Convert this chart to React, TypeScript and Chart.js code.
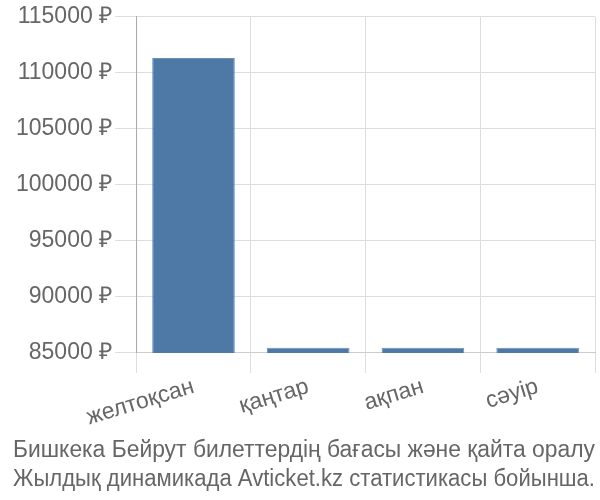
import React, { useEffect, useRef } from "react";
import { Chart, registerables } from "chart.js";

Chart.register(...registerables);

const categories = ["желтоқсан", "қаңтар", "ақпан", "сәуір"];
const prices = [111330, 85470, 85470, 85470];
const yTicksMin = 85000;
const yTicksMax = 115000;
const yStep = 5000;
const titleLines = [
  "Бишкека Бейрут билеттердің бағасы және қайта оралу",
  "Жылдық динамикада Avticket.kz статистикасы бойынша.",
];

const FONT = "'Liberation Sans', Arial, sans-serif";

export default function App() {
  const ref = useRef<HTMLCanvasElement | null>(null);
  useEffect(() => {
    document.body.style.margin = "0";
    if (!ref.current) return;
    const chart = new Chart(ref.current, {
      type: "bar",
      data: {
        labels: categories,
        datasets: [
          {
            data: prices,
            backgroundColor: "#4e79a7",
            borderColor: "#6a8fb8",
            borderWidth: 1,
          },
        ],
      },
      options: {
        responsive: false,
        animation: false,
        layout: { padding: { left: 13, right: 5, top: 0, bottom: 0 } },
        plugins: {
          legend: { display: false },
          tooltip: { enabled: false },
          title: {
            display: true,
            position: "bottom",
            text: titleLines,
            color: "#666",
            font: { size: 23.3, weight: "normal", family: FONT, lineHeight: 1.25 },
            padding: { top: 4, bottom: 6 },
          },
        },
        scales: {
          x: {
            grid: { color: "#dddddd", tickLength: 20, offset: true },
            border: { color: "#cccccc" },
            ticks: {
              color: "#666",
              font: { size: 23, family: FONT },
              minRotation: 17,
              maxRotation: 17,
              padding: 0,
            },
          },
          y: {
            min: yTicksMin,
            max: yTicksMax,
            grid: { color: "#dddddd", tickLength: 21 },
            border: { color: "#aaaaaa" },
            ticks: {
              stepSize: yStep,
              color: "#666",
              font: { size: 23, family: FONT },
              padding: 3,
              callback: (v: any) => v + " ₽",
            },
          },
        },
      },
    });
    return () => chart.destroy();
  }, []);
  return <canvas ref={ref} width={600} height={500} style={{ display: "block" }} />;
}
